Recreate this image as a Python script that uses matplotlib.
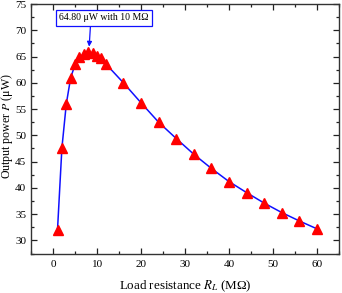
import matplotlib
matplotlib.use('Agg')
import matplotlib.pyplot as plt
from matplotlib.ticker import MultipleLocator

plt.rcParams['font.family'] = ['Liberation Serif', 'DejaVu Serif']
plt.rcParams['mathtext.fontset'] = 'stix'

# 负载电阻 (MΩ) 与输出功率 (μW)
resistance = [1, 2, 3, 4, 5, 6, 7, 8, 9, 10, 11, 12, 16, 20, 24, 28,
              32, 36, 40, 44, 48, 52, 56, 60]
power = [32.0, 47.6, 56.0, 61.0, 63.5, 64.9, 65.5, 65.8, 65.6, 65.2, 64.7, 63.6,
         60.0, 56.2, 52.5, 49.4, 46.4, 43.7, 41.2, 39.1, 37.1, 35.3, 33.7, 32.2]
note_text = '64.80 μW with 10 MΩ'
note_at = (8.2, 66.9)
note_text_at = (11.6, 72.4)

fig = plt.figure(figsize=(3.42, 2.93), dpi=100)
ax = fig.add_axes([0.091, 0.133, 0.9, 0.853])

ax.plot(resistance, power, color='#1010ff', lw=1.1, zorder=2)
ax.plot(resistance, power, ls='none', marker='^', ms=7, color='red',
        markeredgecolor='red', zorder=3)

ax.annotate(note_text, xy=note_at, xytext=note_text_at,
            ha='center', va='center', fontsize=7,
            bbox=dict(boxstyle='square,pad=0.35', fc='white', ec='#1010ff', lw=0.9),
            arrowprops=dict(arrowstyle='-|>', color='#1010ff', lw=0.9,
                            mutation_scale=7, shrinkA=0, shrinkB=0,
                            relpos=(0.35, 0.0)))

ax.set_xlim(-5, 65)
ax.set_ylim(27.4, 75)
ax.xaxis.set_major_locator(MultipleLocator(10))
ax.xaxis.set_minor_locator(MultipleLocator(5))
ax.yaxis.set_major_locator(MultipleLocator(5))
ax.yaxis.set_minor_locator(MultipleLocator(2.5))
ax.tick_params(which='both', direction='in', top=True, right=True,
               labeltop=False, labelright=False, labelsize=8, color='#222222')
ax.tick_params(axis='y', pad=3.5)
ax.tick_params(axis='x', pad=4)
ax.tick_params(which='major', length=4, width=0.9)
ax.tick_params(which='minor', length=2, width=0.9)
for s in ax.spines.values():
    s.set_linewidth(1.0)
    s.set_color('#333333')

ax.set_xlabel('Load resistance $R_L$ (MΩ)', fontsize=9.4, labelpad=7)
ax.set_ylabel('Output power $P$ (μW)', fontsize=8.6)
ax.yaxis.set_label_coords(-0.051, 0.51)

fig.savefig('out.png', dpi=100)
